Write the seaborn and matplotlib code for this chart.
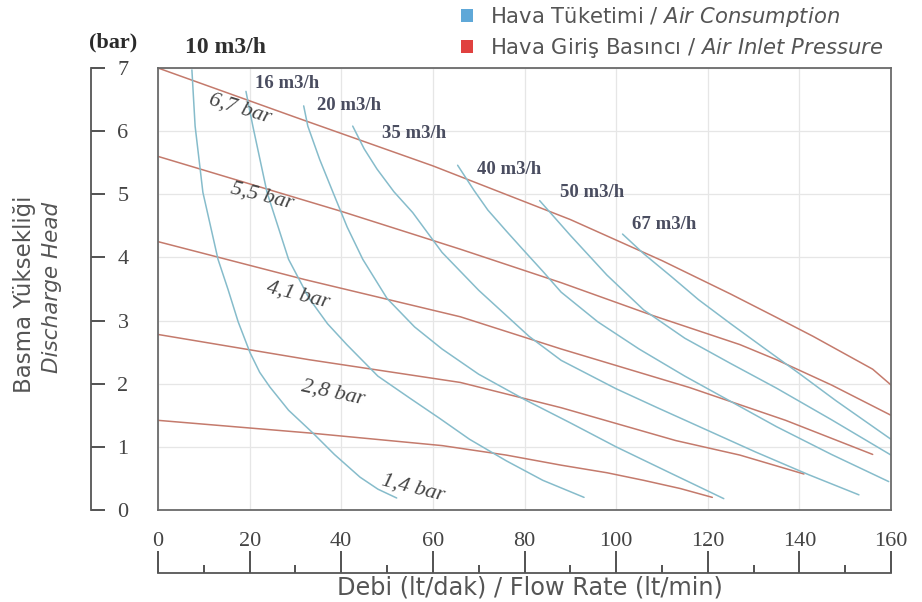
import pandas as pd
import seaborn as sns
import matplotlib.pyplot as plt
from matplotlib.patches import Patch

# Hava giriş basıncı eğrileri (debi lt/dak -> basma bar)
p67_x = [0, 30, 60, 90, 110, 125, 135, 143, 150, 156, 160]
p67_y = [7.0, 6.22, 5.45, 4.6, 3.95, 3.42, 3.05, 2.75, 2.47, 2.23, 1.98]
p55_x = [0, 40, 66, 88, 108, 127, 135, 147, 160]
p55_y = [5.6, 4.73, 4.13, 3.6, 3.08, 2.62, 2.38, 1.98, 1.5]
p41_x = [0, 32, 66, 88, 116, 137, 156]
p41_y = [4.25, 3.65, 3.06, 2.55, 1.94, 1.42, 0.88]
p28_x = [0, 33, 66, 88, 113, 127, 141]
p28_y = [2.78, 2.38, 2.02, 1.62, 1.1, 0.87, 0.57]
p14_x = [0, 33, 62, 76, 88, 98, 106, 114, 121]
p14_y = [1.42, 1.22, 1.02, 0.87, 0.71, 0.59, 0.47, 0.34, 0.2]

# Hava tüketimi eğrileri
a10_x = [7.4, 8.1, 9.8, 13.1, 15.3, 17.5, 20.1, 22.2, 24.4, 28.5, 33.8, 38.5, 44.1, 48, 52.1]
a10_y = [6.97, 6.08, 5.03, 3.97, 3.49, 2.98, 2.49, 2.18, 1.95, 1.58, 1.22, 0.88, 0.52, 0.33, 0.19]
a16_x = [19.2, 20.7, 23.8, 28.5, 33, 37, 41.2, 48, 55, 61.5, 68, 76, 84, 93]
a16_y = [6.63, 6.08, 5.03, 3.97, 3.35, 2.95, 2.62, 2.12, 1.77, 1.45, 1.12, 0.78, 0.47, 0.2]
a20_x = [31.8, 32.7, 35.3, 38.2, 41.3, 44.7, 50, 56, 62, 70, 80, 90, 100, 112, 123.5]
a20_y = [6.4, 6.08, 5.55, 5.03, 4.48, 3.97, 3.35, 2.9, 2.55, 2.15, 1.75, 1.38, 1.0, 0.58, 0.18]
a35_x = [42.5, 45, 47.8, 51.5, 55.6, 62, 70, 81, 88, 100, 109, 120, 130.4, 142, 153]
a35_y = [6.08, 5.72, 5.4, 5.04, 4.71, 4.08, 3.48, 2.75, 2.37, 1.92, 1.62, 1.26, 0.92, 0.56, 0.24]
a40_x = [65.4, 69, 72, 76, 79.6, 84, 88, 96, 105, 115, 125, 135, 147, 159.5]
a40_y = [5.46, 5.06, 4.75, 4.42, 4.13, 3.78, 3.45, 2.98, 2.55, 2.12, 1.72, 1.32, 0.88, 0.45]
a50_x = [83.3, 90, 98, 106, 115, 125, 135, 147, 160]
a50_y = [4.9, 4.35, 3.72, 3.17, 2.72, 2.32, 1.93, 1.43, 0.87]
a67_x = [101.4, 106, 112, 118, 125, 132, 140, 148, 160]
a67_y = [4.37, 4.06, 3.7, 3.33, 2.95, 2.58, 2.16, 1.73, 1.12]

pressure_labels = ['6,7 bar', '5,5 bar', '4,1 bar', '2,8 bar', '1,4 bar']
air_labels = ['10 m3/h', '16 m3/h', '20 m3/h', '35 m3/h', '40 m3/h', '50 m3/h', '67 m3/h']
x_ticks = [0, 20, 40, 60, 80, 100, 120, 140, 160]
y_ticks = [0, 1, 2, 3, 4, 5, 6, 7]

pressure = [(p67_x, p67_y), (p55_x, p55_y), (p41_x, p41_y), (p28_x, p28_y), (p14_x, p14_y)]
air = [(a10_x, a10_y), (a16_x, a16_y), (a20_x, a20_y), (a35_x, a35_y),
       (a40_x, a40_y), (a50_x, a50_y), (a67_x, a67_y)]

rows = []
for name, (xs, ys) in zip(pressure_labels, pressure):
    rows += [{'flow': a, 'head': b, 'curve': name, 'kind': 'pressure'} for a, b in zip(xs, ys)]
for name, (xs, ys) in zip(air_labels, air):
    rows += [{'flow': a, 'head': b, 'curve': name, 'kind': 'air'} for a, b in zip(xs, ys)]
df = pd.DataFrame(rows)

sns.set_style('white')
plt.rcParams['font.family'] = ['DejaVu Sans']

red = '#c47a6c'
blue = '#86bccb'

fig = plt.figure(figsize=(9.22, 6.02), dpi=100)
ax = fig.add_axes([158 / 922, 1 - 510 / 602, 733 / 922, 442 / 602])

sns.lineplot(data=df, x='flow', y='head', units='curve', hue='kind', estimator=None,
             sort=False, palette={'air': blue, 'pressure': red}, legend=False,
             linewidth=1.1, ax=ax)

ax.set_xlim(0, 160)
ax.set_ylim(0, 7)
ax.set_xticks(x_ticks)
ax.set_yticks(y_ticks)
ax.tick_params(length=0, labelbottom=False, labelleft=False)
ax.grid(True, color='#e6e6e6', linewidth=0.9)
ax.set_xlabel('')
ax.set_ylabel('')
for s in ax.spines.values():
    s.set_color('#6a6a6a')
    s.set_linewidth(1.3)

# ayrık eksenler (köşeli ayraç gibi)
sec_y = ax.secondary_yaxis(-0.0914)
sec_y.set_yticks(y_ticks)
sec_y.tick_params(direction='in', length=10, width=1.3, pad=-27, labelsize=16,
                  colors='#444444', labelfontfamily='Liberation Serif')
sec_y.spines['left'].set_color('#555555')
sec_y.spines['left'].set_linewidth(1.3)

sec_x = ax.secondary_xaxis(-0.1425)
sec_x.set_xticks(x_ticks)
sec_x.set_xticks([10, 30, 50, 70, 90, 110, 130, 150], minor=True)
sec_x.tick_params(which='major', direction='in', length=15.5, width=1.3, pad=-29.5,
                  labelsize=16, colors='#444444', labelfontfamily='Liberation Serif')
sec_x.tick_params(which='minor', direction='in', length=6, width=1.3, colors='#444444')
sec_x.spines['bottom'].set_color('#555555')
sec_x.spines['bottom'].set_linewidth(1.3)

# eğri etiketleri
air_pos = [(5.9, 7.33), (21.2, 6.75), (34.6, 6.4), (49.0, 5.97), (69.6, 5.4), (87.7, 5.03), (103.4, 4.52)]
for i, (lab, (px, py)) in enumerate(zip(air_labels, air_pos)):
    ax.text(px, py, lab, fontsize=17 if i == 0 else 13.5, fontweight='bold',
            family='Liberation Serif', color='#2f2f2f' if i == 0 else '#4a4d60',
            ha='left', va='center')

pr_pos = [(17.9, 6.36, -17), (22.7, 4.97, -14), (30.5, 3.41, -14), (38.2, 1.86, -12), (55.6, 0.35, -14)]
for lab, (px, py, rot) in zip(pressure_labels, pr_pos):
    ax.text(px, py, lab, fontsize=16, style='italic', family='Liberation Serif',
            color='#454545', ha='center', va='center', rotation=rot,
            rotation_mode='anchor')

fig.text(113 / 922, 1 - 42 / 602, '(bar)', fontsize=16, fontweight='bold',
         family='Liberation Serif', color='#2a2a2a', ha='center', va='center')

fig.text(25 / 922, 1 - 294 / 602, 'Basma Yüksekliği', rotation=90, fontsize=16.5,
         color='#555555', ha='center', va='center')
fig.text(52 / 922, 1 - 287 / 602, 'Discharge Head', rotation=90, fontsize=15.5,
         style='italic', color='#555555', ha='center', va='center')
fig.text(530 / 922, 1 - 587 / 602, 'Debi (lt/dak) / Flow Rate (lt/min)', fontsize=17.3,
         color='#555555', ha='center', va='center')

handles = [Patch(facecolor='#5fa8d8', edgecolor='none'), Patch(facecolor='#e0413f', edgecolor='none')]
labels = [r'Hava Tüketimi / $\mathit{Air\ Consumption}$',
          r'Hava Giriş Basıncı / $\mathit{Air\ Inlet\ Pressure}$']
leg = fig.legend(handles, labels, loc='upper left', bbox_to_anchor=(461 / 922, 1 - 5 / 602),
                 frameon=False, fontsize=15.2, handlelength=0.57, handleheight=0.57,
                 handletextpad=0.8, labelspacing=0.33, borderpad=0, borderaxespad=0)
for t in leg.get_texts():
    t.set_color('#555555')

fig.savefig('out.png', dpi=100, facecolor='white')
